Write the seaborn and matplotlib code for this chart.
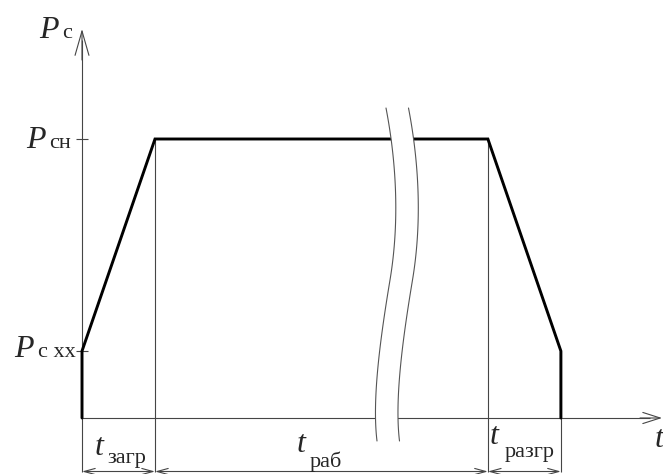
import numpy as np
import matplotlib
matplotlib.use("Agg")
import matplotlib.pyplot as plt
import seaborn as sns

# Load cycle: loading ramp, steady work, unloading ramp
phase_durations = [1.0, 4.56, 1.0]          # t_загр, t_раб, t_разгр
phase_labels = ["загр", "раб", "разгр"]
p_idle = 0.24                                # P_с хх
p_nominal = 1.0                              # P_сн

t_edges = np.concatenate([[0.0], np.cumsum(phase_durations)])
curve_t = [t_edges[0], t_edges[0], t_edges[1], t_edges[2], t_edges[3], t_edges[3]]
curve_p = [0.0, p_idle, p_nominal, p_nominal, p_idle, 0.0]

sns.set_theme(style="white")
plt.rcParams["font.family"] = ["Liberation Serif", "DejaVu Serif"]

# page geometry: pixels per unit and origin position
SX, SY = 73.0, 279.0
OX, OY = 82.0, 418.0
W, H = 663, 474


def X(px):
    return (px - OX) / SX


def Y(py):
    return (OY - py) / SY


fig = plt.figure(figsize=(W / 100, H / 100), dpi=100)
ax = fig.add_axes([0, 0, 1, 1])
ax.set_xlim(X(0), X(W))
ax.set_ylim(Y(H), Y(0))
ax.set_axis_off()

thin = dict(color="#454545", lw=0.8, solid_capstyle="butt")

# load curve
sns.lineplot(x=curve_t, y=curve_p, sort=False, estimator=None, color="black",
             linewidth=2.1, ax=ax, zorder=2, solid_joinstyle="miter")

# axes with open arrow heads
y_dim = Y(471.5)
ax.plot([0, 0], [y_dim, Y(40)], **thin, zorder=1)
ax.annotate("", xy=(0, Y(29)), xytext=(0, Y(60)),
            arrowprops=dict(arrowstyle="->,head_length=1.75,head_width=0.5",
                            lw=0.8, color="#454545", shrinkA=0, shrinkB=0,
                            mutation_scale=10))
ax.plot([0, X(650)], [0, 0], **thin, zorder=1)
ax.annotate("", xy=(X(662), 0), xytext=(X(640), 0),
            arrowprops=dict(arrowstyle="->,head_length=1.25,head_width=0.4",
                            lw=0.8, color="#454545", shrinkA=0, shrinkB=0,
                            mutation_scale=10))

# ticks at the two power levels
for p in (p_nominal, p_idle):
    ax.plot([X(76), X(88)], [p, p], **thin, zorder=1)

# extension lines down to the dimension line
ax.plot([t_edges[1]] * 2, [p_nominal, y_dim], **thin, zorder=1)
ax.plot([t_edges[2]] * 2, [p_nominal, y_dim], **thin, zorder=1)
ax.plot([t_edges[3]] * 2, [p_idle, y_dim], **thin, zorder=1)

# dimension line with arrows for each phase
for a, b in zip(t_edges[:-1], t_edges[1:]):
    ax.annotate("", xy=(a, y_dim), xytext=(b, y_dim),
                arrowprops=dict(arrowstyle="<->,head_length=0.8,head_width=0.22",
                                lw=0.8, color="#454545", shrinkA=0, shrinkB=0,
                                mutation_scale=10))


# break marks across the steady phase
def bezier(p0, p1, p2, p3, n=60):
    s = np.linspace(0, 1, n)[:, None]
    return ((1 - s) ** 3) * p0 + 3 * (1 - s) ** 2 * s * p1 + 3 * (1 - s) * s ** 2 * p2 + s ** 3 * p3


seg1 = bezier(np.array([386, 108]), np.array([396, 160]), np.array([400, 220]), np.array([390, 280]))
seg2 = bezier(np.array([390, 280]), np.array([380, 340]), np.array([372, 400]), np.array([377, 441]))
left = np.vstack([seg1, seg2])
right = left + np.array([22.5, 0])
poly = np.vstack([left, right[::-1]])
ax.fill(X(poly[:, 0]), Y(poly[:, 1]), color="white", zorder=3, lw=0)
for c in (left, right):
    ax.plot(X(c[:, 0]), Y(c[:, 1]), color="#555555", lw=0.8, zorder=4)

# labels
main = dict(fontsize=23, style="italic", ha="left", va="baseline")
sub = dict(fontsize=16, ha="left", va="baseline")

ax.text(X(39), Y(38), "P", **main)
ax.text(X(62), Y(38), "с", **sub)
ax.text(X(26), p_nominal - 9 / SY, "P", **main)
ax.text(X(49), p_nominal - 9 / SY, "сн", **sub)
ax.text(X(14), p_idle - 6 / SY, "P", **main)
ax.text(X(38), p_idle - 6 / SY, "с хх", **sub)

t_pos = [(95, 455, 107, 463), (297, 452, 310, 467), (490, 444, 505, 457)]
for (tx, ty, sx, sy), lab in zip(t_pos, phase_labels):
    ax.text(X(tx), Y(ty), "t", **main)
    ax.text(X(sx), Y(sy), lab, **sub)
ax.text(X(655), Y(447), "t", **main)

fig.savefig("out.png", dpi=100)
